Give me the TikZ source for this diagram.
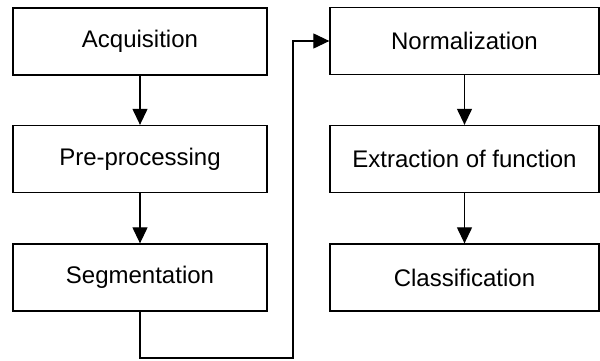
\documentclass[tikz,border=0pt]{standalone}
\usepackage{fontspec}
\setmainfont{Liberation Sans}
\usetikzlibrary{arrows.meta}

\tikzstyle{stage}=[draw,line width=1.3pt,fill=white,minimum height=67pt,inner sep=0pt,font=\fontsize{24}{28}\selectfont]
\tikzstyle{left stage} = [stage, minimum width=254pt]
\tikzstyle{right stage} = [stage, minimum width=269pt]
\tikzstyle{edge} = [draw,line width=1.2pt,-{Triangle[width=15pt,length=16pt]}]

\begin{document}
\begin{tikzpicture}[x=1pt, y=1pt]
    \useasboundingbox (0,0) rectangle (600,360);
    % First column of stages
    \foreach \pos/\name/\txt in {{(140,318.5)/acq/Acquisition},
        {(140,201)/pre/Pre-processing},{(140,82.5)/seg/Segmentation}}
    \node[left stage] (\name) at \pos {\txt};
    % Second column of stages
    \foreach \pos/\name/\txt in {{(464.5,319)/norm/Normalization},
        {(464.5,201)/extr/Extraction of function},{(464.5,82.5)/cls/Classification}}
    \node[right stage] (\name) at \pos {\txt};
    % Connect the stages
    \foreach \source/ \dest in {acq/pre, pre/seg, norm/extr, extr/cls}
    \path[edge] (\source) -- (\dest);
    % Link from the first column to the second
    \coordinate (turn) at (293,2);
    \path[edge] (seg.south) |- (turn) |- (norm.west);
\end{tikzpicture}
\end{document}
